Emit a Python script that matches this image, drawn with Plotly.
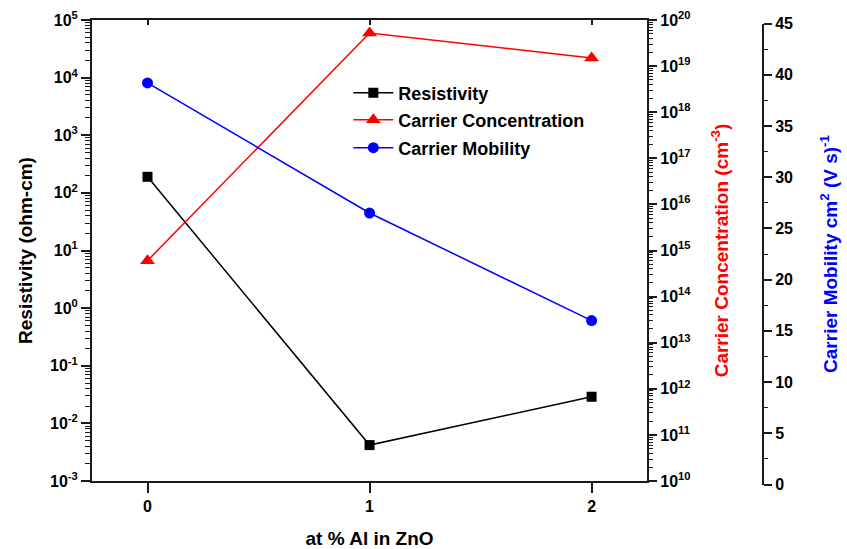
import plotly.graph_objects as go

# ---- data ----
al_pct = [0, 1, 2]
resistivity = [190, 0.0042, 0.029]          # ohm-cm
carrier_conc = [6e14, 5.2e19, 1.5e19]       # cm^-3
carrier_mob = [39.2, 26.5, 16.0]            # cm^2 (V s)^-1
x_ticks = [0, 1, 2]
res_exponents = list(range(-3, 6))
conc_exponents = list(range(10, 21))
mob_ticks = list(range(0, 50, 5))

W, H = 847, 549
L, T = 91.5, 20
PR, PB = 647, 481          # plot right / bottom in px
MR, MB = 40, 60            # margins
plot_w = W - L - MR
plot_h = H - T - MB

def fx(px):
    return (px - L) / plot_w

def fy(py):
    return (H - MB - py) / plot_h

def pow_labels(exps):
    return [10.0 ** e for e in exps], [f"10<sup>{e}</sup>" for e in exps]

def minor_vals(exps):
    return [m * 10.0 ** e for e in exps[:-1] for m in range(2, 10)]

FONT = "Liberation Sans, Arial, sans-serif"
AX = "#1a1a1a"

fig = go.Figure()

fig.add_trace(go.Scatter(
    x=al_pct, y=resistivity, mode="lines+markers", name="Resistivity",
    line=dict(color="black", width=1.5),
    marker=dict(symbol="square", size=10, color="black"),
    xaxis="x", yaxis="y", legend="legend"))
fig.add_trace(go.Scatter(
    x=al_pct, y=carrier_conc, mode="lines+markers", name="Carrier Concentration",
    line=dict(color="#ff0000", width=1.5),
    marker=dict(symbol="triangle-up", size=13, color="#ff0000"),
    xaxis="x", yaxis="y2", legend="legend2"))
fig.add_trace(go.Scatter(
    x=al_pct, y=carrier_mob, mode="lines+markers", name="Carrier Mobility",
    line=dict(color="#0000ff", width=1.5),
    marker=dict(symbol="circle", size=11, color="#0000ff"),
    xaxis="x", yaxis="y3", legend="legend3"))
# invisible trace to activate top axis
fig.add_trace(go.Scatter(x=[0], y=[1], mode="markers", marker=dict(opacity=0),
                         showlegend=False, hoverinfo="skip", xaxis="x2", yaxis="y"))

tickfont = dict(family=FONT, size=16, color="black", weight="bold")
titlefont = dict(family=FONT, size=19, weight="bold")

main_dom = [fy(PB), 1.0]
mob_dom = [fy(PB + 3.5), fy(T + 3.5)]

rv, rt = pow_labels(res_exponents)
cv, ct = pow_labels(conc_exponents)

fig.update_layout(
    width=W, height=H,
    margin=dict(l=L, r=MR, t=T, b=MB, autoexpand=False),
    paper_bgcolor="white", plot_bgcolor="rgba(0,0,0,0)",
    showlegend=True,
    xaxis=dict(
        domain=[0, fx(PR)], range=[-0.25, 2.25], anchor="y", automargin=False,
        tickvals=x_ticks, ticktext=[str(v) for v in x_ticks],
        ticks="outside", ticklen=10, tickwidth=1.5, tickcolor=AX,
        showline=True, linecolor=AX, linewidth=2, mirror=True,
        showgrid=False, zeroline=False,
        tickfont=dict(family=FONT, size=16, color="black", weight="bold"),
        title=dict(text="at % Al in ZnO", font=dict(color="black", **titlefont), standoff=20),
    ),
    xaxis2=dict(
        overlaying="x", side="top", anchor="y", range=[-0.25, 2.25], automargin=False,
        tickvals=x_ticks, showticklabels=False,
        ticks="inside", ticklen=5, tickwidth=1.5, tickcolor=AX,
        showline=False, showgrid=False, zeroline=False,
    ),
    yaxis=dict(
        domain=main_dom, type="log", range=[-3, 5], automargin=False,
        tickvals=rv, ticktext=rt,
        ticks="outside", ticklen=9, tickwidth=1.5, tickcolor=AX,
        minor=dict(ticks="outside", ticklen=5, tickwidth=1, tickcolor=AX,
                   tickvals=minor_vals(res_exponents), showgrid=False),
        showline=True, linecolor=AX, linewidth=2,
        showgrid=False, zeroline=False, tickfont=tickfont,
        title=dict(text="Resistivity (ohm-cm)", font=dict(color="black", **titlefont), standoff=12),
    ),
    yaxis2=dict(
        overlaying="y", side="right", anchor="x", type="log", range=[10, 20], automargin=False,
        tickvals=cv, ticktext=ct,
        ticks="outside", ticklen=8, tickwidth=1.5, tickcolor=AX,
        minor=dict(ticks="outside", ticklen=4, tickwidth=1, tickcolor=AX,
                   tickvals=minor_vals(conc_exponents), showgrid=False),
        showline=True, linecolor=AX, linewidth=2,
        showgrid=False, zeroline=False, tickfont=tickfont,
        title=dict(text="Carrier Concentration (cm<sup>-3</sup>)",
                   font=dict(color="#ff0000", **titlefont), standoff=24),
    ),
    yaxis3=dict(
        domain=mob_dom, anchor="free", position=fx(763), side="right", automargin=False,
        range=[0, 45], tickvals=mob_ticks,
        ticks="outside", ticklen=8, tickwidth=1.5, tickcolor=AX,
        minor=dict(ticks="outside", ticklen=4, tickwidth=1, tickcolor=AX, dtick=2.5, showgrid=False),
        showline=True, linecolor=AX, linewidth=2,
        showgrid=False, zeroline=False, tickfont=tickfont,
        title=dict(text="Carrier Mobility cm<sup>2</sup> (V s)<sup>-1</sup>",
                   font=dict(color="#0000ff", **titlefont), standoff=31),
    ),
)

legend_font = dict(family=FONT, size=18, color="black", weight="bold")
for key, yc in (("legend", 93), ("legend2", 120), ("legend3", 148)):
    fig.update_layout(**{key: dict(
        x=fx(348), y=fy(yc), xanchor="left", yanchor="middle",
        bgcolor="rgba(0,0,0,0)", borderwidth=0, font=legend_font,
        itemwidth=40,
    )})

fig.write_html("out.html")
